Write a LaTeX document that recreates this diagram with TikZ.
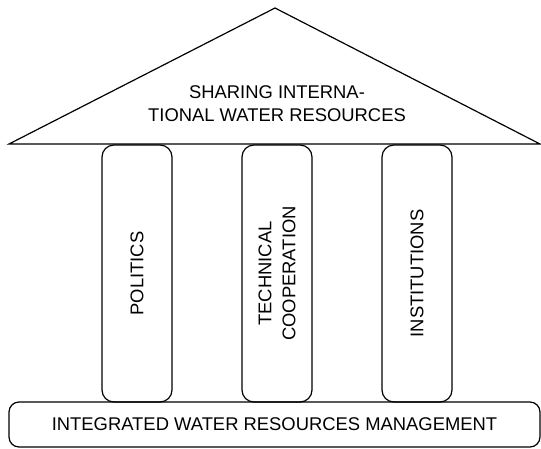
\documentclass[tikz,border=0pt]{standalone}
\usepackage{fontspec}
\setmainfont{Liberation Sans}

\tikzset{
    pillar/.style={draw, line width=1.2pt, rounded corners=12pt,
        minimum width=70pt, minimum height=257pt, inner sep=0pt},
    pillartext/.style={rotate=90, align=center, font=\fontsize{18.4}{24}\selectfont},
    basebox/.style={draw, line width=1.2pt, rounded corners=10pt,
        minimum width=531pt, minimum height=45pt, inner sep=0pt,
        font=\fontsize{18.4}{22}\selectfont}
}

\begin{document}
\begin{tikzpicture}[x=1pt,y=-1pt]
    \useasboundingbox (0,0) rectangle (541,448);

    \coordinate (roofL) at (9,144);
    \coordinate (roofT) at (275,8);
    \coordinate (roofR) at (540,144);
    \draw[line width=1.2pt, line join=miter] (roofL) -- (roofT) -- (roofR) -- cycle;
    \node[align=center, font=\fontsize{18.4}{23}\selectfont] (roof) at (277,104)
        {SHARING INTERNA-\\TIONAL WATER RESOURCES};

    \node[pillar] (politics) at (137,273.5) {};
    \node[pillar] (techcoop) at (277,273.5) {};
    \node[pillar] (instit)   at (417,273.5) {};

    \node[pillartext] (politicsT) at (politics) {POLITICS};
    \node[pillartext] (techcoopT) at (techcoop) {TECHNICAL\\COOPERATION};
    \node[pillartext] (institT)   at (instit) {INSTITUTIONS};

    \node[basebox] (iwrm) at (274.5,424.5) {INTEGRATED WATER RESOURCES MANAGEMENT};
\end{tikzpicture}
\end{document}
